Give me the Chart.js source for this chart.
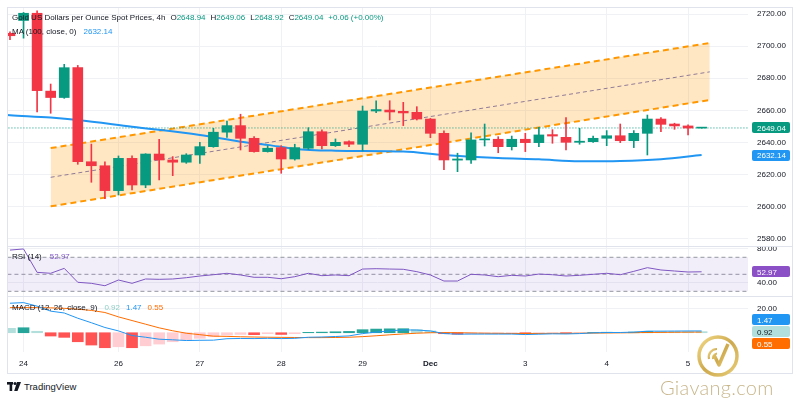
<!DOCTYPE html>
<html>
<head>
<meta charset="utf-8">
<title>Gold US Dollars per Ounce Spot Prices, 4h</title>
<script src="https://cdn.jsdelivr.net/npm/chart.js@4.4.1/dist/chart.umd.min.js"></script>
<style>
html,body{margin:0;padding:0;background:#fff;width:800px;height:400px;overflow:hidden;font-family:'Liberation Sans',Arial,sans-serif;}
#wrap{position:relative;width:800px;height:400px;}
.box{position:absolute;left:0;width:800px;}
.frame{position:absolute;left:7px;top:7px;width:786px;height:367px;border:1px solid #e0e3eb;box-sizing:border-box;pointer-events:none;}
.sep{position:absolute;left:7px;width:786px;height:1px;background:#e0e3eb;}
.lg{position:absolute;left:12px;font-size:8px;line-height:10px;color:#131722;white-space:pre;}
.lg .g{margin-left:5px;}
#tv{position:absolute;left:7px;top:381px;font-size:9.5px;line-height:11px;color:#131722;white-space:pre;}
#tv svg{vertical-align:-1px;margin-right:3px;}
#gv{position:absolute;left:660px;top:376px;font-family:Lato,'Open Sans',sans-serif;font-weight:300;font-size:20px;line-height:22px;color:#c9b78c;letter-spacing:0.3px;}
#gvlogo{position:absolute;left:690px;top:328px;}
</style>
</head>
<body>
<div id="wrap">
  <div class="box" style="top:0;height:246px"><canvas id="cMain"></canvas></div>
  <div class="box" style="top:246px;height:50px"><canvas id="cRsi"></canvas></div>
  <div class="box" style="top:296px;height:81px"><canvas id="cMacd"></canvas></div>
  <div class="frame"></div>
  <div class="sep" style="top:246px"></div>
  <div class="sep" style="top:296px"></div>
  <div id="lg1" class="lg" style="top:13px"></div>
  <div id="lg2" class="lg" style="top:27px"></div>
  <div id="lg3" class="lg" style="top:252px"></div>
  <div id="lg4" class="lg" style="top:303px"></div>
  <div id="tv"><svg width="14" height="9" viewBox="0 0 14 9"><rect x="0" y="0" width="6" height="2.6" fill="#131722"/><rect x="2.6" y="0" width="2.6" height="9" fill="#131722"/><circle cx="8" cy="1.5" r="1.5" fill="#131722"/><polygon points="10,0 14,0 10.5,9 7.2,9" fill="#131722"/></svg>TradingView</div>
  <svg id="gvlogo" width="56" height="56" viewBox="0 0 56 56">
    <defs><linearGradient id="gold" x1="0" y1="0" x2="1" y2="1"><stop offset="0" stop-color="#f1d57a"/><stop offset="0.5" stop-color="#c9a13b"/><stop offset="1" stop-color="#e6c86a"/></linearGradient></defs>
    <circle cx="28" cy="28" r="19" fill="none" stroke="url(#gold)" stroke-width="3.5" opacity="0.9"/>
    <path d="M19 31 A8 8 0 0 1 27 21" fill="none" stroke="url(#gold)" stroke-width="2.2" opacity="0.85"/>
    <path d="M23 31 A4.5 4.5 0 0 1 27 25.5" fill="none" stroke="url(#gold)" stroke-width="2" opacity="0.85"/>
    <path d="M24 27 L29 37 L38 16" fill="none" stroke="url(#gold)" stroke-width="3.5" stroke-linejoin="round" opacity="0.9"/>
  </svg>
  <div id="gv">Giavang.com</div>
</div>
<script>
// ---------- data ----------
const xTickIdx    = [1, 8, 14, 20, 26, 31, 38, 44, 50];
const xTickLabels = ['24', '26', '27', '28', '29', 'Dec', '3', '4', '5'];
const priceTicks  = [2580, 2600, 2620, 2640, 2660, 2680, 2700, 2720];
const rsiTicks    = [40, 80];
const macdTicks   = [20];

const opens  = [2708, 2716, 2720.5, 2672, 2668, 2686.6, 2628, 2625.5, 2610, 2630.1, 2613.5, 2632.8, 2629.1, 2627.7, 2632.2, 2637.4, 2646.4, 2650.5, 2642.6, 2634.3, 2636.8, 2629.7, 2636.4, 2646.7, 2638, 2640.5, 2638.9, 2659.6, 2660.2, 2659.4, 2658.8, 2654.6, 2645.7, 2629, 2629.1, 2641.6, 2642, 2637.4, 2642, 2639.9, 2644.9, 2643.2, 2640.1, 2640.5, 2642.6, 2644.2, 2641.1, 2645.7, 2654.6, 2651.5, 2650.3, 2648.94];
const highs  = [2709, 2721, 2722, 2676.4, 2688.7, 2688, 2639, 2628, 2631.6, 2631.6, 2633, 2642, 2631.2, 2633, 2640.1, 2648.8, 2653.4, 2657.6, 2643.6, 2638, 2638, 2638.9, 2649.2, 2647.8, 2642.2, 2641, 2662.7, 2666, 2666, 2665, 2662.3, 2655, 2647.2, 2633.3, 2646, 2651.5, 2643.6, 2644, 2645.7, 2649.5, 2648, 2655.5, 2648.8, 2644, 2647.4, 2651.5, 2647.4, 2657.1, 2655.5, 2652, 2651, 2649.06];
const lows   = [2704, 2705, 2659, 2658.2, 2667.5, 2626.4, 2615.2, 2605, 2607.3, 2610.4, 2611.8, 2616.6, 2619.3, 2627, 2627, 2637, 2643.2, 2635.3, 2634, 2634, 2620.8, 2629, 2635.5, 2636, 2637.5, 2637.4, 2634.7, 2658.6, 2654, 2650.5, 2654, 2643, 2623, 2621.8, 2627, 2637.8, 2633.6, 2635.3, 2634.3, 2637.4, 2639.5, 2635.3, 2638.9, 2640, 2638, 2639.9, 2636.8, 2632.2, 2646.7, 2648.2, 2644.7, 2648.92];
const closes = [2706.5, 2720.5, 2672.3, 2668, 2686.6, 2628, 2625.5, 2610, 2630.1, 2613.5, 2632.8, 2629.1, 2627.7, 2632.2, 2637.4, 2646.4, 2650.5, 2642.6, 2634.3, 2636.4, 2629.7, 2636.8, 2646.7, 2638, 2640.1, 2638.9, 2659.6, 2660.5, 2659, 2658.4, 2654.6, 2645.7, 2629.1, 2629.7, 2641.6, 2642.2, 2637.4, 2642, 2639.9, 2644.7, 2644, 2640.1, 2640.8, 2642.6, 2644.2, 2641.1, 2645.7, 2654.6, 2651.3, 2650.3, 2648.98, 2649.04];

const maIdx  = [-1, 0, 3, 5, 9, 14, 17, 19, 21, 24, 29, 32, 36, 39, 42, 45, 48, 51];
const maVals = [2657.6, 2657, 2655.5, 2654, 2649.8, 2644.7, 2640.5, 2638.5, 2636, 2634.9, 2634.3, 2632.2, 2630.3, 2629.5, 2628.3, 2628.5, 2629.6, 2632.14];

const channelIdx   = [3, 51.6];
const channelUpper = [2636.5, 2702];
const channelMid   = [2618.3, 2684];
const channelLower = [2600.2, 2666.5];

const rsiVals  = [78.5, 79.8, 52.3, 51.2, 57, 40.6, 39.4, 36.6, 43.3, 39.4, 44.5, 44.1, 44.5, 46, 48, 49.5, 51.2, 49.2, 46.5, 46.5, 44.8, 47.2, 51.2, 48.4, 49.2, 48.4, 56.2, 56.6, 56.2, 55.9, 53.1, 49.2, 42.1, 42.1, 50, 49.2, 47.2, 48.8, 48, 50.3, 49.5, 48, 48.8, 50, 51.2, 49.5, 53.5, 57.8, 55.1, 53.9, 52.7, 52.97];
const rsiBands = [70, 50, 30];

const macdVals   = [24.2, 24.7, 21.8, 17.7, 16.2, 11.9, 8.2, 4.3, 1.5, -2.3, -3.7, -5.3, -5.8, -6.4, -6.2, -6.1, -4.9, -4.7, -4.8, -4.6, -4.8, -4.6, -3.7, -3.5, -3.1, -2.6, -0.7, 0.5, 1.5, 2.3, 2.2, 1.5, -0.7, -1.2, -1.1, -1.1, -1.1, -1.1, -1.5, -1.2, -0.9, -1.0, -0.7, -0.1, 0.2, 0.2, 0.5, 1.3, 1.3, 1.37, 1.45, 1.47];
const signalVals = [20.6, 20.6, 20.6, 20.4, 20.0, 19.3, 18.3, 16.6, 13.0, 10.0, 7.0, 4.0, 1.6, -0.4, -1.6, -2.8, -3.0, -3.3, -3.5, -3.7, -3.8, -3.9, -4.0, -4.0, -3.9, -3.7, -3.2, -2.5, -1.7, -1.0, -0.4, 0.0, 0.1, 0.0, -0.2, -0.4, -0.5, -0.6, -0.6, -0.6, -0.5, -0.5, -0.4, -0.3, -0.2, -0.1, 0.0, 0.2, 0.3, 0.4, 0.5, 0.55];
const histVals   = [3.6, 4.1, 1.2, -2.7, -3.8, -7.4, -10.1, -12.3, -11.5, -12.3, -10.7, -9.3, -7.4, -6.0, -4.6, -3.3, -1.9, -1.4, -1.6, -0.8, -1.4, -0.8, 0.3, 0.5, 0.8, 1.1, 2.5, 3.0, 3.2, 3.3, 2.6, 1.5, -0.8, -1.2, -0.9, -0.7, -0.6, -0.5, -0.9, -0.6, -0.4, -0.5, -0.3, 0.2, 0.4, 0.3, 0.5, 1.1, 1.0, 0.97, 0.95, 0.92];

// ---------- styling ----------
const FONT = "'Liberation Sans', Arial, sans-serif";
Chart.defaults.font.family = FONT;
Chart.defaults.font.size = 8;
Chart.defaults.color = '#131722';
const UP = '#089981', DOWN = '#F23645', GRID = '#eff1f5';
const MA_C = '#2196F3', MACD_C = '#2196F3', SIG_C = '#FF6D00', RSI_C = '#7E57C2';
const X_MIN = -0.22, X_MAX = 54.42;
const last = a => a[a.length - 1];

function xAxis(showLabels) {
  return {
    type: 'linear', min: X_MIN, max: X_MAX, offset: false, bounds: 'data',
    afterBuildTicks: s => { s.ticks = xTickIdx.map(v => ({ value: v })); },
    afterFit: s => { s.height = showLabels ? 21 : 0; s.paddingLeft = 0; s.paddingRight = 0; s.paddingTop = 0; s.paddingBottom = 0; },
    grid: { color: GRID, drawTicks: false, offset: false },
    border: { display: false },
    ticks: {
      display: showLabels, padding: 7, autoSkip: false, maxRotation: 0, color: '#131722',
      font: c => ({ size: 8, weight: (c.tick && xTickLabels[xTickIdx.indexOf(c.tick.value)] === 'Dec') ? 'bold' : 'normal' }),
      callback: v => { const k = xTickIdx.indexOf(v); return k >= 0 ? xTickLabels[k] : ''; }
    }
  };
}
function yAxis(min, max, tickVals) {
  return {
    type: 'linear', position: 'right', min, max, bounds: 'data',
    afterBuildTicks: s => { s.ticks = tickVals.map(v => ({ value: v })); },
    afterFit: s => { s.width = 44; s.paddingTop = 0; s.paddingBottom = 0; s.paddingLeft = 0; s.paddingRight = 0; },
    grid: { color: GRID, drawTicks: false },
    border: { display: false },
    ticks: { padding: 9, color: '#131722', font: { size: 8 }, callback: v => Number(v).toFixed(2) }
  };
}
function badgePlugin(items) {
  return {
    id: 'badges',
    afterDraw(chart) {
      const { ctx, chartArea } = chart, ys = chart.scales.y, H = 11, GAP = 1;
      const list = items.map(it => Object.assign({}, it, { py: ys.getPixelForValue(it.value) })).sort((a, b) => a.py - b.py);
      for (let p = 0; p < 40; p++) {
        for (let k = 1; k < list.length; k++) {
          const ov = (H + GAP) - (list[k].py - list[k - 1].py);
          if (ov > 0) { list[k - 1].py -= ov / 2; list[k].py += ov / 2; }
        }
      }
      ctx.save();
      ctx.font = '8px ' + FONT; ctx.textBaseline = 'middle'; ctx.textAlign = 'left';
      list.forEach(b => {
        ctx.fillStyle = b.bg;
        ctx.beginPath(); ctx.roundRect(chartArea.right + 4, Math.round(b.py - H / 2), 38, H, 2); ctx.fill();
        ctx.fillStyle = b.fg; ctx.fillText(b.text, chartArea.right + 9, Math.round(b.py) + 0.5);
      });
      ctx.restore();
    }
  };
}
function baseOpts(padTop, padBottom) {
  return {
    responsive: true, maintainAspectRatio: false, animation: false, events: [],
    layout: { padding: { left: 7, right: 8, top: padTop, bottom: padBottom } },
    plugins: { legend: { display: false }, tooltip: { enabled: false } }
  };
}
const lineDs = (data, color, extra) => Object.assign({ type: 'line', data, borderColor: color, borderWidth: 1, pointRadius: 0, fill: false, clip: 0, tension: 0 }, extra || {});
const span = y => [{ x: X_MIN - 1, y }, { x: X_MAX + 1, y }];

// ---------- main price chart ----------
const candleColors = closes.map((c, i) => c >= opens[i] ? UP : DOWN);
const mainOpts = baseOpts(7, 0);
mainOpts.scales = { x: xAxis(false), y: yAxis(2575.5, 2724.4, priceTicks) };
new Chart(document.getElementById('cMain'), {
  type: 'bar',
  data: { datasets: [
    { type: 'bar', data: opens.map((o, i) => ({ x: i, y: [o, closes[i]] })), backgroundColor: candleColors, barThickness: 10, grouped: false, minBarLength: 1, clip: 0, order: 1 },
    { type: 'bar', data: lows.map((l, i) => ({ x: i, y: [l, highs[i]] })), backgroundColor: candleColors, barThickness: 1, grouped: false, clip: 0, order: 2 },
    lineDs(maIdx.map((x, k) => ({ x, y: maVals[k] })), MA_C, { borderWidth: 2, cubicInterpolationMode: 'monotone', order: 3 }),
    lineDs(span(last(closes)), UP, { borderDash: [1, 2], order: 4 }),
    lineDs(channelIdx.map((x, k) => ({ x, y: channelUpper[k] })), '#FF9800', { borderWidth: 2, borderDash: [6, 4], fill: '+1', backgroundColor: 'rgba(255,152,0,0.23)', order: 5 }),
    lineDs(channelIdx.map((x, k) => ({ x, y: channelLower[k] })), '#FF9800', { borderWidth: 2, borderDash: [6, 4], order: 5 }),
    lineDs(channelIdx.map((x, k) => ({ x, y: channelMid[k] })), '#6f72c2', { borderDash: [4, 3], order: 5 })
  ] },
  options: mainOpts,
  plugins: [badgePlugin([
    { value: last(closes), text: last(closes).toFixed(2), bg: UP, fg: '#fff' },
    { value: last(maVals), text: last(maVals).toFixed(2), bg: MA_C, fg: '#fff' }
  ])]
});

// ---------- RSI ----------
const rsiOpts = baseOpts(1, 0);
rsiOpts.scales = { x: xAxis(false), y: yAxis(24.5, 82.1, rsiTicks) };
new Chart(document.getElementById('cRsi'), {
  type: 'line',
  data: { datasets: [
    lineDs(rsiVals.map((y, i) => ({ x: i, y })), RSI_C, { order: 0 }),
    lineDs(span(rsiBands[0]), '#9598a1', { borderDash: [4, 3], fill: '+1', backgroundColor: 'rgba(126,87,194,0.1)', order: 2 }),
    lineDs(span(rsiBands[2]), '#9598a1', { borderDash: [4, 3], order: 2 }),
    lineDs(span(rsiBands[1]), '#9598a1', { borderDash: [4, 3], order: 2 })
  ] },
  options: rsiOpts,
  plugins: [badgePlugin([{ value: last(rsiVals), text: last(rsiVals).toFixed(2), bg: '#8b4fc6', fg: '#fff' }])]
});

// ---------- MACD ----------
const histColors = histVals.map((h, i) => {
  const prev = i > 0 ? histVals[i - 1] : Infinity;
  if (h >= 0) return h > prev ? '#26A69A' : '#B2DFDB';
  return h < prev ? '#FF5252' : '#FFCDD2';
});
const macdOpts = baseOpts(1, 4);
macdOpts.scales = { x: xAxis(true), y: yAxis(-15.8, 29.3, macdTicks) };
new Chart(document.getElementById('cMacd'), {
  type: 'bar',
  data: { datasets: [
    { type: 'bar', data: histVals.map((y, i) => ({ x: i, y })), backgroundColor: histColors, barThickness: 11, grouped: false, clip: 0, order: 2 },
    lineDs(macdVals.map((y, i) => ({ x: i, y })), MACD_C, { order: 0 }),
    lineDs(signalVals.map((y, i) => ({ x: i, y })), SIG_C, { order: 1 })
  ] },
  options: macdOpts,
  plugins: [badgePlugin([
    { value: last(macdVals), text: last(macdVals).toFixed(2), bg: MACD_C, fg: '#fff' },
    { value: last(histVals), text: last(histVals).toFixed(2), bg: '#B2DFDB', fg: '#131722' },
    { value: last(signalVals), text: last(signalVals).toFixed(2), bg: SIG_C, fg: '#fff' }
  ])]
});

// ---------- legends ----------
const n = closes.length - 1;
const chg = closes[n] - closes[n - 1];
const pct = chg / closes[n - 1] * 100;
const sgn = v => (v >= 0 ? '+' : '') + v.toFixed(2);
const col = (c, t) => `<span style="color:${c}">${t}</span>`;
document.getElementById('lg1').innerHTML = 'Gold US Dollars per Ounce Spot Prices, 4h' +
  `<span class="g">O${col(UP, opens[n].toFixed(2))}</span><span class="g">H${col(UP, highs[n].toFixed(2))}</span>` +
  `<span class="g">L${col(UP, lows[n].toFixed(2))}</span><span class="g">C${col(UP, closes[n].toFixed(2))}</span>` +
  `<span class="g" style="color:${UP}">${sgn(chg)} (${sgn(pct)}%)</span>`;
document.getElementById('lg2').innerHTML = 'MA (100, close, 0)' + `<span style="color:${MA_C};margin-left:7px">${last(maVals).toFixed(2)}</span>`;
document.getElementById('lg3').innerHTML = 'RSI (14)' + `<span style="color:${RSI_C};margin-left:8px">${last(rsiVals).toFixed(2)}</span>`;
document.getElementById('lg4').innerHTML = 'MACD (12, 26, close, 9)' +
  `<span style="color:#8fcfc6;margin-left:7px">${last(histVals).toFixed(2)}</span>` +
  `<span style="color:${MACD_C};margin-left:6px">${last(macdVals).toFixed(2)}</span>` +
  `<span style="color:${SIG_C};margin-left:6px">${last(signalVals).toFixed(2)}</span>`;
</script>
</body>
</html>
